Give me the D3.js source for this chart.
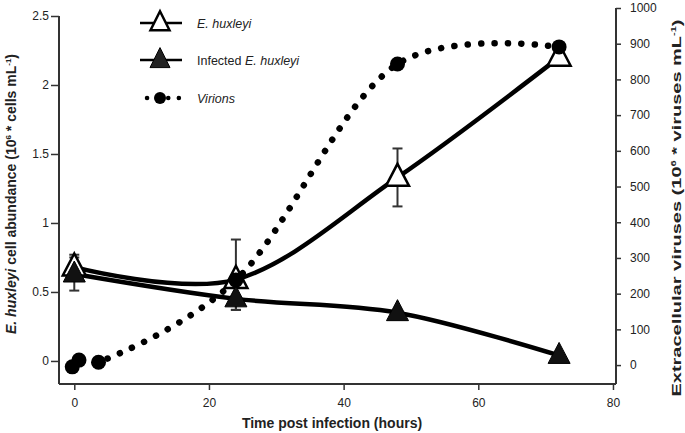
<!DOCTYPE html>
<html>
<head>
<meta charset="utf-8">
<script src="https://cdn.jsdelivr.net/npm/d3@7"></script>
<style>
  html, body { margin: 0; padding: 0; background: #fff; }
  svg { display: block; font-family: "Liberation Sans", Arial, Helvetica, sans-serif; }
</style>
</head>
<body>
<svg id="chart" width="685" height="433"></svg>
<script>
// ---- data ----
const hours = [0, 24, 48, 72];
const ehux = [0.68, 0.59, 1.33, 2.2];
const ehuxErrUp = [0.09, 0.29, 0.21, 0];
const ehuxErrDown = [0.09, 0.22, 0.21, 0];
const infected = [0.63, 0.45, 0.35, 0.04];
const infectedErr = [0.12, 0.08, 0, 0];
const virionHours = [-0.3, 0.7, 3.6, 24, 48, 72];
const virions = [-5, 14, 8, 238, 843, 891];
const xTicks = [0, 20, 40, 60, 80];
const yLeftTicks = [0, 0.5, 1, 1.5, 2, 2.5];
const yRightTicks = [0, 100, 200, 300, 400, 500, 600, 700, 800, 900, 1000];
const legendLabels = ["E. huxleyi", "Infected E. huxleyi", "Virions"];

// ---- layout ----
const svg = d3.select("#chart");
const x = d3.scaleLinear().domain([-2.27, 80.45]).range([59, 616]);
const yL = d3.scaleLinear().domain([-0.167, 2.5]).range([384, 16]);
const yR = d3.scaleLinear().domain([-53, 1000]).range([384, 8]);
const axisColor = "#333";

// axes
const gx = svg.append("g").attr("transform", "translate(0,384)")
  .call(d3.axisBottom(x).tickValues(xTicks).tickSize(6).tickPadding(8).tickFormat(d3.format("d")));
const gl = svg.append("g").attr("transform", "translate(59,0)")
  .call(d3.axisLeft(yL).tickValues(yLeftTicks).tickSize(8).tickPadding(2).tickFormat(d => String(d)));
const gr = svg.append("g").attr("transform", "translate(616,0)")
  .call(d3.axisRight(yR).tickValues(yRightTicks).tickSize(5).tickPadding(9).tickFormat(d => String(d)));
[gx, gl, gr].forEach(g => {
  g.select(".domain").remove();
  g.selectAll(".tick line").attr("stroke", axisColor).attr("stroke-width", 1.5);
  g.selectAll(".tick text").attr("fill", "#222").style("font-size", "12px")
    .style("font-family", '"Liberation Sans", Arial, sans-serif');
});
// axis lines (box without top)
svg.append("line").attr("x1", 59).attr("x2", 59).attr("y1", yL(2.5)).attr("y2", 384)
  .attr("stroke", axisColor).attr("stroke-width", 2);
svg.append("line").attr("x1", 616).attr("x2", 616).attr("y1", yR(1000)).attr("y2", 384)
  .attr("stroke", axisColor).attr("stroke-width", 2);
svg.append("line").attr("x1", 59).attr("x2", 616).attr("y1", 384).attr("y2", 384)
  .attr("stroke", axisColor).attr("stroke-width", 2);

// axis titles
svg.append("text").attr("x", 332).attr("y", 428).attr("text-anchor", "middle")
  .style("font-size", "14px").style("font-weight", "bold").attr("fill", "#222")
  .text("Time post infection (hours)");

const lt = svg.append("text").attr("transform", "translate(16,194) rotate(-90)")
  .attr("text-anchor", "middle").style("font-size", "14px").style("font-weight", "bold").attr("fill", "#222");
lt.append("tspan").style("font-style", "italic").text("E. huxleyi");
lt.append("tspan").text(" cell abundance (10");
lt.append("tspan").attr("dy", -5).style("font-size", "8px").text("6");
lt.append("tspan").attr("dy", 5).text("  * cells mL");
lt.append("tspan").attr("dy", -5).style("font-size", "8px").text("-1");
lt.append("tspan").attr("dy", 5).text(")");

const rt = svg.append("text").attr("transform", "translate(681,208) scale(0.68,1) rotate(-90)")
  .attr("text-anchor", "middle").style("font-size", "20px").style("font-weight", "bold").attr("fill", "#222");
rt.append("tspan").text("Extracellular viruses (10");
rt.append("tspan").attr("dy", -7).style("font-size", "11px").text("6");
rt.append("tspan").attr("dy", 7).text(" * viruses mL");
rt.append("tspan").attr("dy", -7).style("font-size", "11px").text("-1");
rt.append("tspan").attr("dy", 7).text(")");

// ---- lines ----
const ehuxPts = hours.map((h, i) => [h, ehux[i]]);
const infPts = hours.map((h, i) => [h, infected[i]]);
const virPts = virionHours.map((h, i) => [h, virions[i]]);

const lineL = d3.line().x(d => x(d[0])).y(d => yL(d[1])).curve(d3.curveCardinal.tension(0));
const lineR = d3.line().x(d => x(d[0])).y(d => yR(d[1])).curve(d3.curveCatmullRom.alpha(0.25));

svg.append("path").attr("d", lineR(virPts)).attr("fill", "none").attr("stroke", "#000")
  .attr("stroke-width", 6.5).attr("stroke-linecap", "round").attr("stroke-dasharray", "0.1 13.3");
svg.append("path").attr("d", lineL(ehuxPts)).attr("fill", "none").attr("stroke", "#000").attr("stroke-width", 4.5);
svg.append("path").attr("d", lineL(infPts)).attr("fill", "none").attr("stroke", "#000").attr("stroke-width", 4.5);

// ---- error bars ----
function errBar(h, lo, hi) {
  if (hi - lo <= 0) return;
  const g = svg.append("g").attr("stroke", axisColor).attr("stroke-width", 2);
  g.append("line").attr("x1", x(h)).attr("x2", x(h)).attr("y1", yL(lo)).attr("y2", yL(hi));
  g.append("line").attr("x1", x(h) - 5).attr("x2", x(h) + 5).attr("y1", yL(lo)).attr("y2", yL(lo));
  g.append("line").attr("x1", x(h) - 5).attr("x2", x(h) + 5).attr("y1", yL(hi)).attr("y2", yL(hi));
}
hours.forEach((h, i) => errBar(h, ehux[i] - ehuxErrDown[i], ehux[i] + ehuxErrUp[i]));
hours.forEach((h, i) => errBar(h, infected[i] - infectedErr[i], infected[i] + infectedErr[i]));

// ---- markers ----
function tri(cx, cy, w, hgt) {
  return `M${cx},${cy - hgt * 0.62}L${cx + w / 2},${cy + hgt * 0.38}L${cx - w / 2},${cy + hgt * 0.38}Z`;
}
svg.append("g").selectAll("path").data(ehuxPts).join("path")
  .attr("d", d => tri(x(d[0]), yL(d[1]), 23, 22))
  .attr("fill", "#fff").attr("stroke", "#000").attr("stroke-width", 2.5).attr("stroke-linejoin", "miter");
svg.append("g").selectAll("path").data(infPts).join("path")
  .attr("d", d => tri(x(d[0]), yL(d[1]), 22, 21))
  .attr("fill", "#111").attr("stroke", "#000").attr("stroke-width", 1);
svg.append("g").selectAll("circle").data(virPts).join("circle")
  .attr("cx", d => x(d[0])).attr("cy", d => yR(d[1])).attr("r", 7.5).attr("fill", "#000");

// ---- legend ----
const legY = [23, 60, 98];
const leg = svg.append("g");
// E. huxleyi
leg.append("line").attr("x1", 140).attr("x2", 182).attr("y1", legY[0]).attr("y2", legY[0])
  .attr("stroke", "#000").attr("stroke-width", 2.5);
leg.append("path").attr("d", tri(160, legY[0], 19, 19)).attr("fill", "#fff").attr("stroke", "#000").attr("stroke-width", 2.5);
// infected
leg.append("line").attr("x1", 140).attr("x2", 182).attr("y1", legY[1]).attr("y2", legY[1])
  .attr("stroke", "#000").attr("stroke-width", 2.5);
leg.append("path").attr("d", tri(160, legY[1], 20, 20)).attr("fill", "#222").attr("stroke", "#000").attr("stroke-width", 1);
// virions
leg.append("line").attr("x1", 147).attr("x2", 180).attr("y1", legY[2]).attr("y2", legY[2])
  .attr("stroke", "#000").attr("stroke-width", 4.5).attr("stroke-linecap", "round").attr("stroke-dasharray", "0.1 10.5");
leg.append("circle").attr("cx", 160).attr("cy", legY[2]).attr("r", 6).attr("fill", "#000");

const legText = leg.selectAll("text.lab").data(legendLabels).join("text").attr("class", "lab")
  .attr("x", 197).attr("y", (d, i) => legY[i] + 4.5).style("font-size", "12.5px").attr("fill", "#222");
legText.each(function (d, i) {
  const t = d3.select(this);
  if (i === 1) {
    t.append("tspan").text("Infected ");
    t.append("tspan").style("font-style", "italic").text("E. huxleyi");
  } else {
    t.append("tspan").style("font-style", "italic").text(d);
  }
});
</script>
</body>
</html>
